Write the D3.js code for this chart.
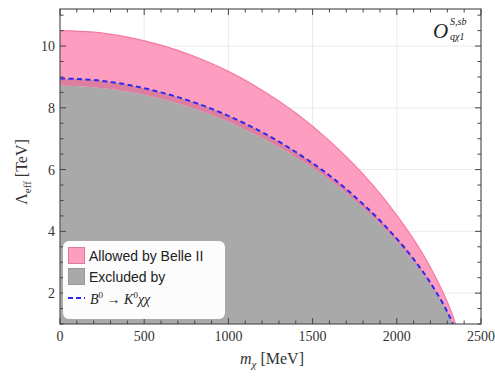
<!DOCTYPE html>
<html><head><meta charset="utf-8">
<script src="https://cdn.jsdelivr.net/npm/d3@7"></script>
<style>body{margin:0;background:#fff}svg{display:block}</style>
</head><body>
<script>
const mass    = [0,200,400,600,800,1000,1200,1400,1600,1800,1900,2000,2100,2200,2250,2300,2340,2360];
const upper   = [10.50,10.45,10.29,10.03,9.66,9.18,8.57,7.83,6.93,5.85,5.22,4.52,3.74,2.83,2.30,1.71,1.15,0.81];
const dashed  = [8.95,8.90,8.75,8.50,8.17,7.74,7.21,6.57,5.81,4.88,4.35,3.76,3.10,2.33,1.89,1.39,0.92,0.65];
const gray    = [8.72,8.67,8.53,8.29,7.97,7.55,7.03,6.41,5.67,4.76,4.25,3.67,3.02,2.27,1.84,1.36,0.90,0.63];
const xTicks  = [0,500,1000,1500,2000,2500];
const yTicks  = [2,4,6,8,10];

const W=495,H=377, L=60,R=481,T=9,B=324;
const svg=d3.select("body").append("svg").attr("width",W).attr("height",H);
const x=d3.scaleLinear().domain([0,2500]).range([L,R]);
const y=d3.scaleLinear().domain([1,11.2]).range([B,T]);
const serif="'Liberation Serif','Times New Roman',serif";
const sans="'Liberation Sans',Arial,sans-serif";

svg.append("clipPath").attr("id","c").append("rect").attr("x",L).attr("y",T).attr("width",R-L).attr("height",B-T);

// grid
const g=svg.append("g");
xTicks.slice(1,-1).forEach(v=>g.append("line").attr("x1",x(v)).attr("x2",x(v)).attr("y1",T).attr("y2",B).attr("stroke","#ebebeb").attr("stroke-width",1));
yTicks.forEach(v=>g.append("line").attr("x1",L).attr("x2",R).attr("y1",y(v)).attr("y2",y(v)).attr("stroke","#ebebeb").attr("stroke-width",1));

const pts=(arr)=>mass.map((m,i)=>[m,arr[i]]);
const plot=svg.append("g").attr("clip-path","url(#c)");
const curve=d3.curveMonotoneX;
// pink band
plot.append("path").datum(mass.map((m,i)=>({m,lo:gray[i],hi:upper[i]})))
  .attr("d",d3.area().curve(curve).x(d=>x(d.m)).y0(d=>y(d.lo)).y1(d=>y(d.hi)))
  .attr("fill","#fd9dbf");
plot.append("path").datum(pts(upper))
  .attr("d",d3.line().curve(curve).x(d=>x(d[0])).y(d=>y(d[1])))
  .attr("fill","none").attr("stroke","#f47aa4").attr("stroke-width",1.2);
// gray excluded
plot.append("path").datum(pts(gray))
  .attr("d",d3.area().curve(curve).x(d=>x(d[0])).y0(B).y1(d=>y(d[1])))
  .attr("fill","#a9a9a9");
// darker strip
plot.append("path").datum(mass.map((m,i)=>({m,lo:gray[i],hi:dashed[i]})))
  .attr("d",d3.area().curve(curve).x(d=>x(d.m)).y0(d=>y(d.lo)).y1(d=>y(d.hi)))
  .attr("fill","#dd7d9f");
// dashed line
plot.append("path").datum(pts(dashed))
  .attr("d",d3.line().curve(curve).x(d=>x(d[0])).y(d=>y(d[1])))
  .attr("fill","none").attr("stroke","#2a2aee").attr("stroke-width",2).attr("stroke-dasharray","5,3.5");

// frame
svg.append("rect").attr("x",L).attr("y",T).attr("width",R-L).attr("height",B-T).attr("fill","none").attr("stroke","#555").attr("stroke-width",1.2);

// ticks
const tk=svg.append("g").attr("stroke","#444").attr("stroke-width",1);
d3.range(0,2501,100).forEach(v=>{
  const major=v%500===0, len=major?6:3.5;
  tk.append("line").attr("x1",x(v)).attr("x2",x(v)).attr("y1",B).attr("y2",B-len);
  tk.append("line").attr("x1",x(v)).attr("x2",x(v)).attr("y1",T).attr("y2",T+len);
});
d3.range(1,11.01,0.5).forEach(v=>{
  const major=Math.abs(v%2)<1e-9, len=major?6:3.5;
  tk.append("line").attr("x1",L).attr("x2",L+len).attr("y1",y(v)).attr("y2",y(v));
  tk.append("line").attr("x1",R).attr("x2",R-len).attr("y1",y(v)).attr("y2",y(v));
});

// tick labels
xTicks.forEach(v=>svg.append("text").attr("x",x(v)).attr("y",341).attr("text-anchor","middle")
  .attr("font-family",serif).attr("font-size",14).attr("fill","#333").text(v));
yTicks.forEach(v=>svg.append("text").attr("x",55).attr("y",y(v)+5).attr("text-anchor","end")
  .attr("font-family",serif).attr("font-size",14).attr("fill","#333").text(v));

// axis titles
const xt=svg.append("text").attr("x",272).attr("y",364).attr("text-anchor","middle")
  .attr("font-family",serif).attr("font-size",16).attr("fill","#333");
xt.append("tspan").attr("font-style","italic").text("m");
xt.append("tspan").attr("font-style","italic").attr("font-size",11).attr("dy",4).text("χ");
xt.append("tspan").attr("dy",-4).text(" [MeV]");

const yt=svg.append("text").attr("transform","translate(27,172) rotate(-90)").attr("text-anchor","middle")
  .attr("font-family",serif).attr("font-size",16).attr("fill","#333");
yt.append("tspan").text("Λ");
yt.append("tspan").attr("font-size",11).attr("dy",4).text("eff");
yt.append("tspan").attr("dy",-4).text(" [TeV]");

// annotation
const an=svg.append("g").attr("font-family",serif).attr("font-style","italic").attr("fill","#222");
an.append("text").attr("x",433).attr("y",38).attr("font-size",21).text("O");
an.append("text").attr("x",450).attr("y",25).attr("font-size",10).text("S,sb");
an.append("text").attr("x",450).attr("y",40).attr("font-size",10).text("qχ1");

// legend
const lg=svg.append("g");
lg.append("rect").attr("x",63).attr("y",241).attr("width",162).attr("height",78).attr("rx",6)
  .attr("fill","#fff").attr("fill-opacity",0.97);
lg.append("rect").attr("x",68.5).attr("y",247.5).attr("width",16).attr("height",16).attr("fill","#fd9dbf").attr("stroke","#e0789e");
lg.append("rect").attr("x",68.5).attr("y",268.5).attr("width",16).attr("height",16).attr("fill","#a9a9a9").attr("stroke","#999");
lg.append("line").attr("x1",68).attr("x2",85).attr("y1",298).attr("y2",298).attr("stroke","#2a2aee").attr("stroke-width",2).attr("stroke-dasharray","5,3");
lg.append("text").attr("x",89).attr("y",261).attr("font-family",sans).attr("font-size",14).attr("fill","#222").text("Allowed by Belle II");
lg.append("text").attr("x",89).attr("y",282).attr("font-family",sans).attr("font-size",14).attr("fill","#222").text("Excluded by");
const lt=lg.append("text").attr("x",90).attr("y",304).attr("font-family",serif).attr("font-size",14).attr("fill","#222");
lt.append("tspan").attr("font-style","italic").text("B");
lt.append("tspan").attr("font-size",9).attr("dy",-6).text("0");
lt.append("tspan").attr("dy",6).text(" → ");
lt.append("tspan").attr("font-style","italic").text("K");
lt.append("tspan").attr("font-size",9).attr("dy",-6).text("0");
lt.append("tspan").attr("dy",6).attr("font-style","italic").text("χχ");
</script>
</body></html>
